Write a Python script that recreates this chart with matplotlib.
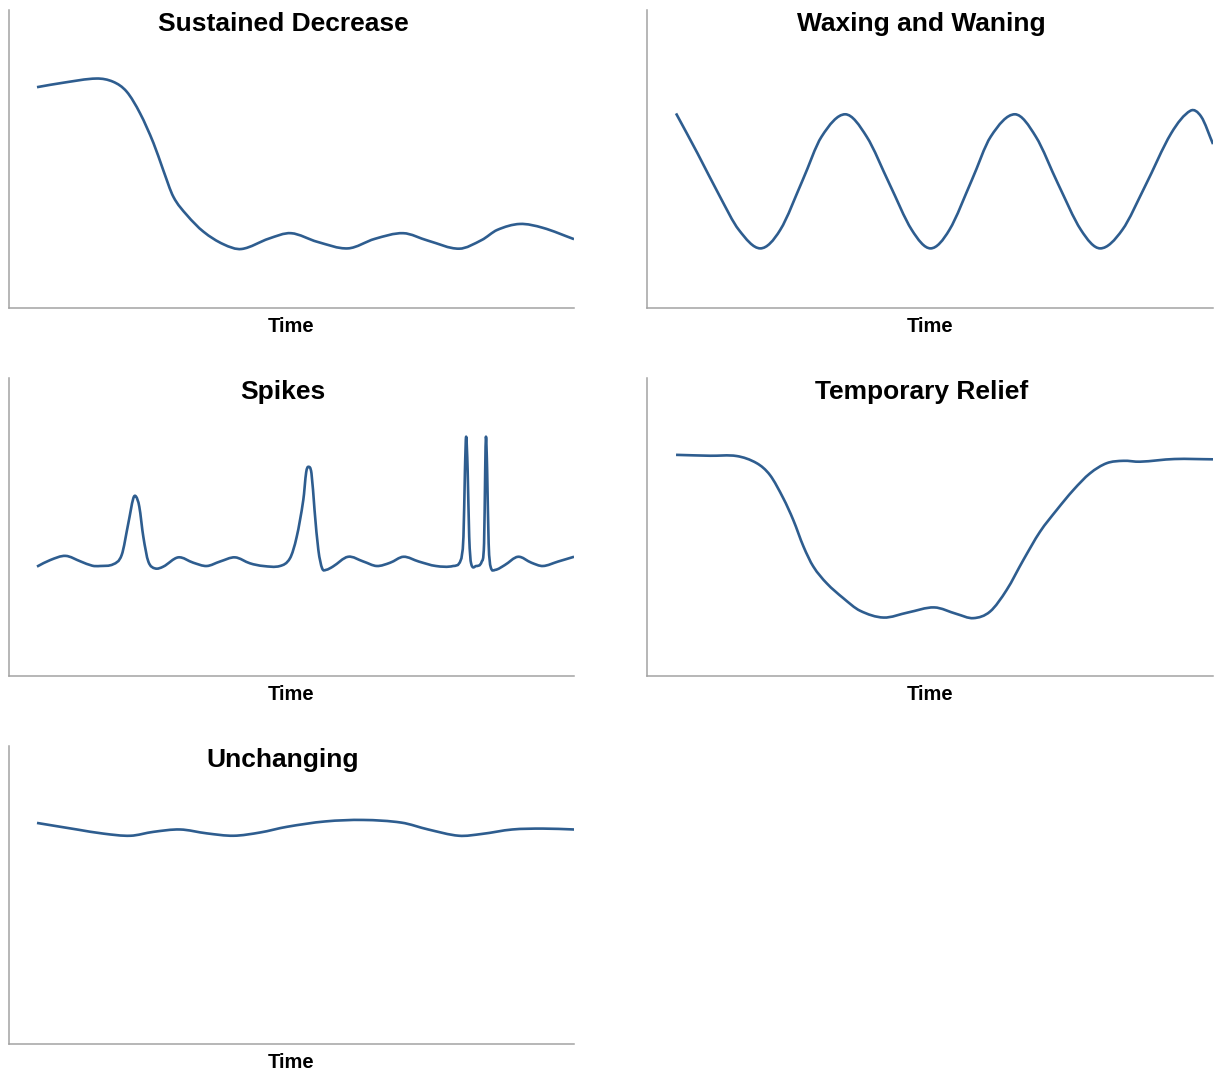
import matplotlib
matplotlib.use("Agg")
import matplotlib.pyplot as plt
from matplotlib.path import Path
from matplotlib.patches import PathPatch

plt.rcParams["font.family"] = ["Liberation Sans", "DejaVu Sans"]

LINE_COLOR = "#2e5d8f"
SPINE_COLOR = "#a3a3a3"

# ─── Data (time 0-100, value on a 0-100 scale) ────────────────────────────────

decrease_t = [0, 4.9, 11.1, 14.2, 16.7, 19.2, 21.7, 23.5, 25.4, 27.9, 31.0,
              34.7, 38.1, 43.2, 47.3, 52.2, 57.9, 62.9, 68.2, 72.8, 78.6,
              82.8, 85.7, 89.9, 94.2, 100]
decrease_v = [74.1, 75.6, 77.0, 75.9, 72.6, 65.3, 55.3, 46.3, 37.3, 31.2, 25.6,
              21.4, 19.8, 23.3, 25.1, 22.2, 20.0, 23.2, 25.1, 22.6, 19.9,
              22.8, 26.2, 28.2, 26.9, 23.1]

waxing_t = [0, 4.0, 8.2, 11.7, 15.7, 19.4, 23.6, 27.1, 31.5, 35.5, 39.7, 43.9,
            47.4, 50.9, 55.1, 58.6, 63.1, 67.0, 71.1, 75.4, 79.0, 83.1, 87.3,
            92.2, 95.8, 97.8, 100]
waxing_v = [65.3, 51.9, 37.3, 26.2, 20.0, 26.2, 43.0, 57.5, 65.0, 57.5, 41.8,
            26.2, 20.0, 26.2, 43.0, 57.5, 65.0, 57.5, 41.8, 26.2, 20.0, 26.2,
            40.7, 58.6, 66.2, 64.2, 55.0]

spikes_t = [0, 2.47, 5.31, 8.16, 10.29, 11.73, 14.21, 15.77, 17.0, 17.93,
            18.44, 19.05, 19.8, 20.73, 21.97, 23.52, 26.31, 29.11, 31.6,
            34.08, 36.87, 39.66, 42.14, 45.25, 47.11, 48.36, 49.59, 50.12,
            50.54, 51.11, 51.68, 52.39, 53.1, 53.81, 55.09, 57.93,
            60.78, 63.27, 65.76, 68.25, 71.09, 74.29, 77.49, 78.91, 79.41,
            79.69, 79.91, 80.19, 80.48, 80.83, 81.76, 82.82, 83.25, 83.46,
            83.6, 83.82, 84.1, 84.46, 85.31, 87.09, 89.58, 92.07, 94.2,
            97.04, 100]
spikes_v = [36.7, 38.9, 40.3, 38.4, 37.0, 36.9, 37.5, 40.6, 51.2, 59.6,
            60.2, 56.8, 46.7, 38.4, 36.1, 36.7, 39.8, 38.0, 36.9,
            38.4, 39.8, 37.8, 36.9, 36.9, 39.5, 46.7, 59.1, 68.3,
            70.2, 68.0, 55.7, 42.3, 36.1, 35.6, 36.7, 40.0,
            38.4, 36.9, 38.0, 40.0, 38.4, 36.9, 36.9, 38.9, 46.7,
            69.1, 80.3, 69.1, 46.7, 37.8, 36.9, 38.4, 44.5, 69.1,
            80.3, 69.1, 44.5, 36.7, 35.6, 37.2, 40.0, 38.0, 36.9,
            38.4, 40.0]

relief_t = [0, 6.33, 11.3, 15.03, 17.5, 19.98, 21.84, 23.74, 25.57, 28.06,
            31.15, 34.26, 38.64, 43.19, 48.08, 52.27, 55.36, 58.47, 61.58,
            64.67, 67.78, 70.89, 73.99, 77.09, 80.2, 83.3, 86.4, 92.82, 100]
relief_v = [74.2, 73.9, 73.8, 71.4, 67.4, 59.6, 52.3, 43.4, 36.7, 31.1,
            26.1, 21.9, 19.6, 21.3, 23.0, 20.8, 19.4, 21.6, 28.9,
            38.9, 48.4, 55.7, 62.4, 68.0, 71.4, 72.2, 71.9, 72.8, 72.7]

flat_t = [0, 7.44, 12.42, 17.4, 21.66, 26.64, 31.62, 36.6, 41.57, 46.55,
          53.66, 60.77, 67.88, 72.86, 78.55, 82.81, 88.5, 94.19, 100]
flat_v = [74.2, 72.0, 70.6, 69.9, 71.2, 72.0, 70.7, 69.9, 71.0, 72.9,
          74.7, 75.2, 74.3, 72.0, 69.9, 70.5, 72.0, 72.3, 72.0]

titles = ["Sustained Decrease", "Waxing and Waning", "Spikes",
          "Temporary Relief", "Unchanging"]
series = [(decrease_t, decrease_v), (waxing_t, waxing_v),
          (spikes_t, spikes_v), (relief_t, relief_v), (flat_t, flat_v)]


# ─── Helpers ──────────────────────────────────────────────────────────────────

def smooth_line(ax, xs, ys):
    """Draw a smooth cubic (Hermite/Bezier) line through the points."""
    n = len(xs)
    slopes = []
    for i in range(n):
        a, b = max(i - 1, 0), min(i + 1, n - 1)
        slopes.append((ys[b] - ys[a]) / (xs[b] - xs[a]))
    verts = [(xs[0], ys[0])]
    codes = [Path.MOVETO]
    for i in range(n - 1):
        h = (xs[i + 1] - xs[i]) / 3
        verts += [(xs[i] + h, ys[i] + slopes[i] * h),
                  (xs[i + 1] - h, ys[i + 1] - slopes[i + 1] * h),
                  (xs[i + 1], ys[i + 1])]
        codes += [Path.CURVE4] * 3
    patch = PathPatch(Path(verts, codes), fill=False, edgecolor=LINE_COLOR,
                      linewidth=1.9, capstyle="butt", joinstyle="round")
    ax.add_patch(patch)


def style_ax(ax, title, xmin):
    ax.set_xlim(xmin, 100)
    ax.set_ylim(0, 100)
    for side in ("top", "right"):
        ax.spines[side].set_visible(False)
    for side in ("left", "bottom"):
        ax.spines[side].set_color(SPINE_COLOR)
        ax.spines[side].set_linewidth(1.1)
    ax.set_xticks([])
    ax.set_yticks([])
    ax.text(0.485, 0.953, title, transform=ax.transAxes, ha="center",
            va="center", fontsize=19, fontweight="bold")
    ax.text(0.5, -0.061, "Time", transform=ax.transAxes, ha="center",
            va="center", fontsize=14.5, fontweight="bold")


# ─── Figure ───────────────────────────────────────────────────────────────────

fig = plt.figure(figsize=(12.19, 10.75), dpi=100)
fig.patch.set_facecolor("white")

lefts = [0.0074, 0.5308]
widths = [0.4635, 0.4643]
bottoms = [0.7135, 0.3712, 0.0288]
height = 0.2772
xmins = [-5.21, -5.4]

for k, (title, (t, v)) in enumerate(zip(titles, series)):
    row, col = divmod(k, 2)
    ax = fig.add_axes([lefts[col], bottoms[row], widths[col], height])
    style_ax(ax, title, xmins[col])
    smooth_line(ax, t, v)

fig.savefig("out.png", dpi=100, facecolor="white")
